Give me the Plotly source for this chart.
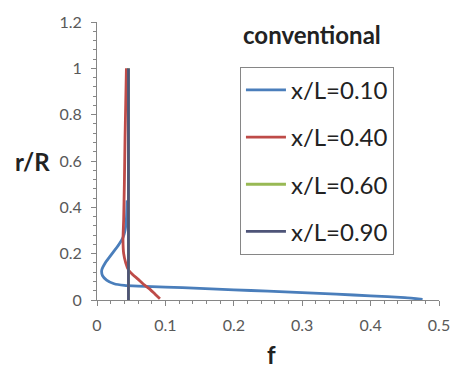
import plotly.graph_objects as go

# x/L = 0.10
f_010 = [0.476, 0.45, 0.40, 0.35, 0.30, 0.25, 0.20, 0.15, 0.10, 0.06, 0.04, 0.025, 0.014, 0.008, 0.007, 0.012, 0.022, 0.032, 0.038, 0.041, 0.043, 0.044]
r_010 = [0.003, 0.010, 0.018, 0.025, 0.032, 0.038, 0.044, 0.050, 0.056, 0.060, 0.063, 0.070, 0.086, 0.105, 0.130, 0.160, 0.200, 0.240, 0.270, 0.300, 0.350, 0.430]
# x/L = 0.40
f_040 = [0.092, 0.085, 0.078, 0.068, 0.060, 0.052, 0.046, 0.042, 0.039, 0.038, 0.039, 0.040, 0.041, 0.042, 0.043]
r_040 = [0.005, 0.025, 0.045, 0.068, 0.090, 0.110, 0.130, 0.160, 0.200, 0.260, 0.350, 0.500, 0.700, 0.850, 1.000]
# x/L = 0.60
f_060 = [0.046, 0.046]
r_060 = [0.0, 1.0]
# x/L = 0.90
f_090 = [0.046, 0.046]
r_090 = [0.0, 1.0]

names = ["x/L=0.10", "x/L=0.40", "x/L=0.60", "x/L=0.90"]
colors = ["#4A7EBB", "#BE4B48", "#98B954", "#4E5478"]

x_ticks = [0, 0.1, 0.2, 0.3, 0.4, 0.5]
y_ticks = [0, 0.2, 0.4, 0.6, 0.8, 1, 1.2]

fig = go.Figure()
for i, (fx, ry) in enumerate([(f_010, r_010), (f_040, r_040), (f_060, r_060), (f_090, r_090)]):
    fig.add_trace(go.Scatter(x=fx, y=ry, mode="lines", name=names[i],
                             line=dict(color=colors[i], width=2.8, shape="spline", smoothing=0.5),
                             legendgroup=names[i]))

axcol = "#868686"
fam = "Lato, Open Sans, sans-serif"
tickfont = dict(family=fam, size=16, color="#595959")

fig.update_layout(
    width=462, height=372,
    margin=dict(l=97, r=12, t=20, b=72),
    paper_bgcolor="white", plot_bgcolor="white",
    showlegend=True,
    xaxis=dict(range=[0, 0.5], tickvals=x_ticks, showgrid=False, zeroline=False,
               showline=True, linecolor=axcol, linewidth=1,
               ticks="outside", ticklen=5, tickcolor=axcol, tickfont=tickfont,
               ticklabelstandoff=6,
               minor=dict(dtick=0.02, ticks="outside", ticklen=3, tickcolor=axcol)),
    yaxis=dict(range=[0, 1.2], tickvals=y_ticks, showgrid=False, zeroline=False,
               showline=True, linecolor=axcol, linewidth=1,
               ticks="outside", ticklen=5, tickcolor=axcol, tickfont=tickfont,
               ticklabelstandoff=6,
               minor=dict(dtick=0.04, ticks="outside", ticklen=3, tickcolor=axcol)),
    xaxis2=dict(range=[0, 0.5], overlaying="x", anchor="y", side="bottom", tickvals=x_ticks,
                showticklabels=False, showgrid=False, zeroline=False, showline=False,
                ticks="inside", ticklen=5, tickcolor=axcol,
                minor=dict(dtick=0.02, ticks="inside", ticklen=3, tickcolor=axcol)),
    yaxis2=dict(range=[0, 1.2], overlaying="y", anchor="x", side="left", tickvals=y_ticks,
                showticklabels=False, showgrid=False, zeroline=False, showline=False,
                ticks="inside", ticklen=5, tickcolor=axcol,
                minor=dict(dtick=0.04, ticks="inside", ticklen=3, tickcolor=axcol)),
    legend=dict(x=0.418, y=0.839, xanchor="left", yanchor="top",
                bordercolor=axcol, borderwidth=1, bgcolor="white",
                font=dict(family=fam, size=24, color="#222222"),
                traceorder="grouped", tracegroupgap=13, itemwidth=40),
    annotations=[
        dict(text="<b>conventional</b>", xref="paper", yref="paper", x=0.63, y=0.955,
             xanchor="center", yanchor="middle", showarrow=False,
             font=dict(family=fam, size=24, color="#222222")),
        dict(text="<b>r/R</b>", xref="paper", yref="paper", x=-0.19, y=0.5,
             xanchor="center", yanchor="middle", showarrow=False,
             font=dict(family=fam, size=24, color="#222222")),
        dict(text="<b>f</b>", xref="paper", yref="paper", x=0.51, y=-0.195,
             xanchor="center", yanchor="middle", showarrow=False,
             font=dict(family=fam, size=24, color="#222222")),
    ],
)

fig.write_html("out.html")
